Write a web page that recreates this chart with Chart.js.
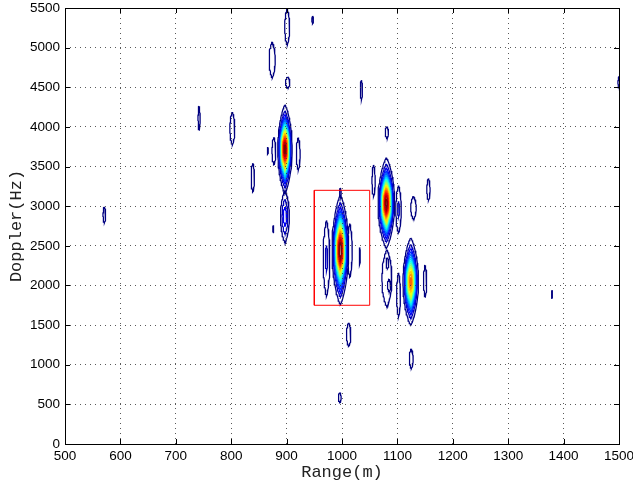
<!DOCTYPE html>
<html><head><meta charset="utf-8">
<script src="https://cdn.jsdelivr.net/npm/chart.js@4.4.1/dist/chart.umd.min.js"></script>
<style>html,body{margin:0;padding:0;background:#fff;}#wrap{width:633px;height:487px;}</style>
</head><body><div id="wrap"><canvas id="c" width="633" height="487"></canvas></div>
<script>
// ---- tick labels ----
const rangeTicks = [500,600,700,800,900,1000,1100,1200,1300,1400,1500];
const dopplerTicks = [0,500,1000,1500,2000,2500,3000,3500,4000,4500,5000,5500];
// ---- contour levels (normalised magnitude) ----
const contourLevels = [0.04,0.09,0.14,0.19,0.24,0.29,0.34,0.39,0.44,0.49,0.54,0.59,0.64,0.69,0.74,0.79,0.84,0.89,0.94];
// ---- peaks / side lobes ----
// centre range (m), centre doppler (Hz), outer-contour half width (m), outer-contour half height (Hz), peak magnitude
const peakRange      = [897, 997, 1080, 1124, 897, 877, 921, 972, 1014, 1032, 997, 1057, 1102, 1129, 1156, 1081, 1081, 1082, 1085, 1102, 1150, 1012, 1125, 996, 571, 742, 802, 866, 839, 901, 947, 874, 902, 1035, 1502, 1379, 876];
const peakDoppler    = [3720, 2450, 3040, 2050, 2870, 3695, 3660, 2340, 2440, 2370, 3170, 3320, 2960, 2980, 3210, 3930, 2090, 2280, 2000, 1880, 2055, 1380, 1075, 585, 2890, 4110, 3980, 3700, 3360, 5260, 5350, 4845, 4560, 4465, 4560, 1890, 2710];
const peakHalfWidth  = [13, 15, 15, 14, 8, 3.5, 3.5, 6, 4.5, 1, 1.5, 3, 5, 5, 3, 3, 9, 2.5, 3, 3.5, 3, 4, 3.5, 2.5, 2.5, 2, 4.5, 1, 3, 4.5, 1.5, 5.5, 4, 2, 4, 1, 1];
const peakHalfHeight = [560, 690, 570, 550, 330, 175, 205, 480, 340, 110, 60, 200, 300, 145, 140, 75, 360, 70, 80, 280, 200, 150, 125, 65, 100, 150, 208, 45, 183, 227, 50, 227, 70, 125, 95, 50, 50];
const peakMagnitude  = [0.97, 1.0, 0.97, 0.76, 0.17, 0.06, 0.06, 0.1, 0.06, 0.05, 0.05, 0.06, 0.1, 0.05, 0.05, 0.05, 0.06, 0.05, 0.05, 0.06, 0.06, 0.05, 0.05, 0.05, 0.05, 0.05, 0.05, 0.05, 0.05, 0.05, 0.05, 0.05, 0.05, 0.05, 0.05, 0.05, 0.05];
// ---- red selection box ----
const boxRange = [950, 1050];
const boxDoppler = [1750, 3200];

const LENS = 0.8, PROFILE = 2, NPTS = 72;
function jet(t){
  const f = v => Math.max(0, Math.min(1, v));
  const r = f(1.5 - Math.abs(4*t - 3)), g = f(1.5 - Math.abs(4*t - 2)), b = f(1.5 - Math.abs(4*t - 1));
  return 'rgb(' + Math.round(r*255) + ',' + Math.round(g*255) + ',' + Math.round(b*255) + ')';
}
function ring(i, s){
  const pts = [];
  for (let k = 0; k <= NPTS; k++) {
    const t = 2*Math.PI*k/NPTS, sn = Math.sin(t), cs = Math.cos(t);
    const u = Math.sign(sn)*Math.pow(Math.abs(sn), 2*LENS);
    pts.push({x: peakRange[i] + u*peakHalfWidth[i]*s, y: peakDoppler[i] + cs*peakHalfHeight[i]*s});
  }
  return pts;
}
const L0 = contourLevels[0], Lmax = contourLevels[contourLevels.length-1];
const datasets = [];
for (let i = 0; i < peakRange.length; i++) {
  const A = peakMagnitude[i];
  contourLevels.forEach((L, li) => {
    if (L >= A) return;
    const s = Math.pow(Math.log(A/L)/Math.log(A/L0), 1/PROFILE);
    datasets.push({data: ring(i, s), showLine: true, borderColor: jet((L-L0)/(Lmax-L0)), borderWidth: 1.25,
      pointRadius: 0, pointHoverRadius: 0, tension: 0, fill: false, order: -li});
  });
}
datasets.push({data: [
  {x: boxRange[0], y: boxDoppler[0]}, {x: boxRange[1], y: boxDoppler[0]},
  {x: boxRange[1], y: boxDoppler[1]}, {x: boxRange[0], y: boxDoppler[1]}, {x: boxRange[0], y: boxDoppler[0]}],
  showLine: true, borderColor: 'rgb(255,0,0)', borderWidth: 1, pointRadius: 0, tension: 0, fill: false, order: -1000});

const boxPlugin = {
  id: 'box',
  afterDraw(chart){
    const {ctx, chartArea: a, scales} = chart;
    ctx.save();
    ctx.strokeStyle = '#000'; ctx.lineWidth = 1;
    ctx.strokeRect(Math.round(a.left)+0.5, Math.round(a.top)+0.5, Math.round(a.right-a.left), Math.round(a.bottom-a.top));
    ctx.beginPath();
    rangeTicks.forEach(v => {
      const x = Math.round(scales.x.getPixelForValue(v)) + 0.5;
      ctx.moveTo(x, a.bottom); ctx.lineTo(x, a.bottom - 5);
      ctx.moveTo(x, a.top); ctx.lineTo(x, a.top + 5);
    });
    dopplerTicks.forEach(v => {
      const y = Math.round(scales.y.getPixelForValue(v)) + 0.5;
      ctx.moveTo(a.left, y); ctx.lineTo(a.left + 5, y);
      ctx.moveTo(a.right, y); ctx.lineTo(a.right - 5, y);
    });
    ctx.stroke();
    ctx.restore();
  }
};

const tickFont = {family: 'Liberation Sans, Arial, sans-serif', size: 13.5};
new Chart(document.getElementById('c'), {
  type: 'scatter',
  data: {datasets},
  plugins: [boxPlugin],
  options: {
    responsive: false, animation: false, devicePixelRatio: 1,
    layout: {padding: {top: 8, right: 14, left: 0, bottom: 0}},
    plugins: {legend: {display: false}, tooltip: {enabled: false}},
    scales: {
      x: {type: 'linear', min: 500, max: 1500,
        afterBuildTicks: s => { s.ticks = rangeTicks.map(v => ({value: v})); },
        afterFit: s => { s.height = 43; s.paddingLeft = 0; s.paddingRight = 0; },
        grid: {color: 'rgba(60,60,60,0.85)', lineWidth: 1, drawTicks: false, z: 1},
        border: {display: false, dash: [1, 4]},
        ticks: {padding: 4, color: '#000', font: tickFont, maxRotation: 0, callback: v => String(v)},
        title: {display: true, text: 'Range(m)', color: '#222', font: {family: 'Liberation Mono, Courier New, monospace', size: 17}, padding: {top: 0, bottom: 4}}
      },
      y: {type: 'linear', min: 0, max: 5500,
        afterBuildTicks: s => { s.ticks = dopplerTicks.map(v => ({value: v})); },
        afterFit: s => { s.width = 65; s.paddingTop = 0; s.paddingBottom = 0; },
        grid: {color: 'rgba(60,60,60,0.85)', lineWidth: 1, drawTicks: false, z: 1},
        border: {display: false, dash: [1, 4]},
        ticks: {padding: 5, color: '#000', font: tickFont, callback: v => String(v)},
        title: {display: true, text: 'Doppler(Hz)', color: '#222', font: {family: 'Liberation Mono, Courier New, monospace', size: 17}, padding: {top: 6, bottom: 0}}
      }
    }
  }
});
</script></body></html>
